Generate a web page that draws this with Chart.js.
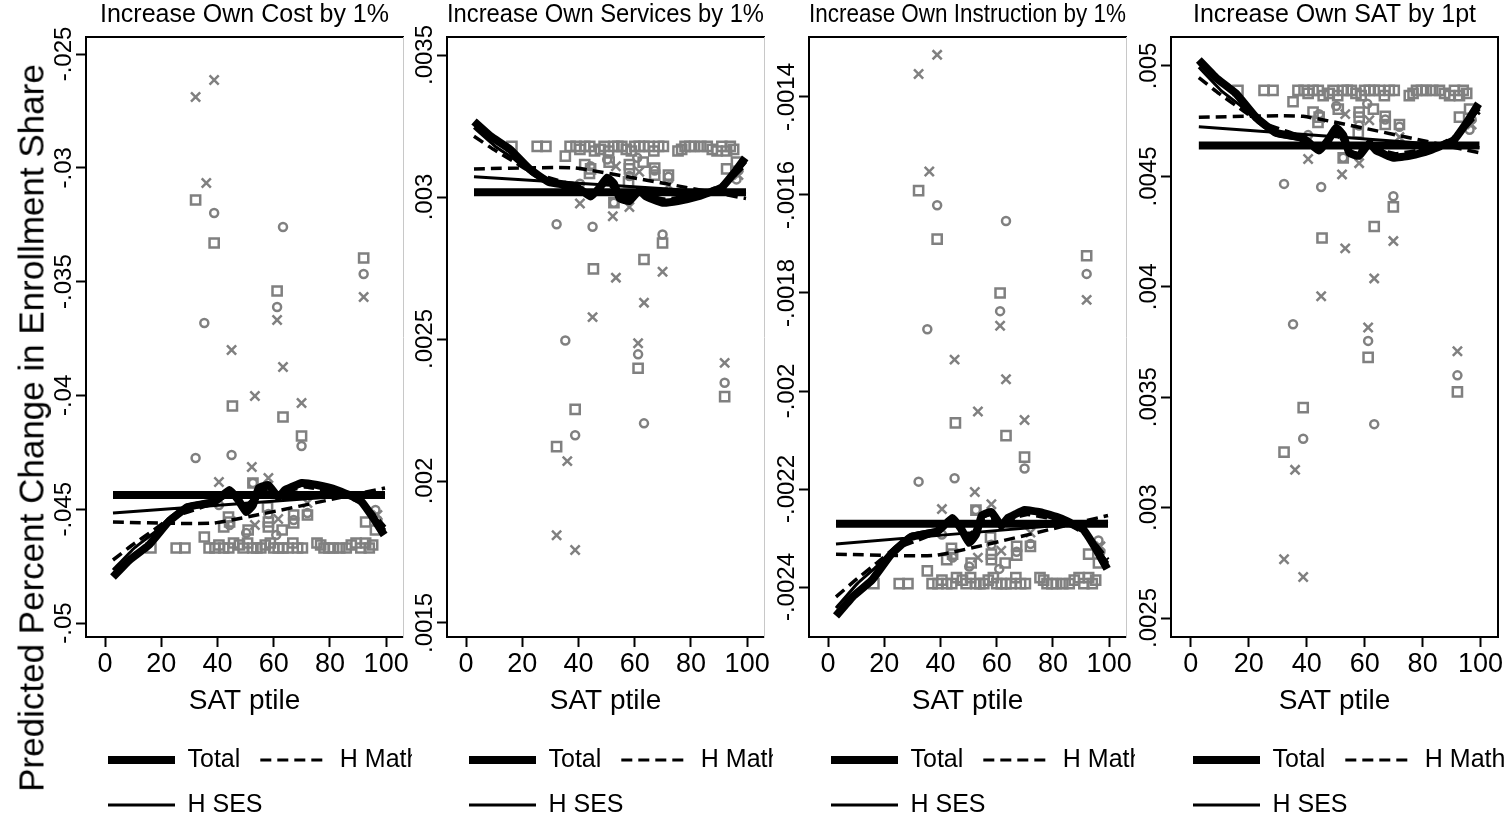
<!DOCTYPE html>
<html>
<head>
<meta charset="utf-8">
<script src="https://cdn.jsdelivr.net/npm/chart.js@4.4.1/dist/chart.umd.min.js"></script>
<style>
html,body{margin:0;padding:0;background:#fff;}
#wrap{position:relative;width:1510px;height:820px;overflow:hidden;background:#fff;}
#wrap canvas{position:absolute;top:0;}
#ytitle{position:absolute;left:31px;top:428px;transform:translate(-50%,-50%) rotate(-90deg);white-space:nowrap;font-family:'Liberation Sans',Arial,sans-serif;font-size:35px;color:#000;line-height:1;}
</style>
</head>
<body>
<div id="wrap">
<canvas id="c1" width="412" height="820" style="left:0px"></canvas>
<canvas id="c2" width="361" height="820" style="left:412px"></canvas>
<canvas id="c3" width="362" height="820" style="left:773px"></canvas>
<canvas id="c4" width="375" height="820" style="left:1135px"></canvas>
<div id="ytitle">Predicted Percent Change in Enrollment Share</div>
</div>
<script>
// ---------- labels ----------
const panelTitles = ['Increase Own Cost by 1%', 'Increase Own Services by 1%', 'Increase Own Instruction by 1%', 'Increase Own SAT by 1pt'];
const legendNames = ['Total', 'H Math', 'H SES'];
const xTitle = 'SAT ptile';
const xTickValues = [0, 20, 40, 60, 80, 100];
const xTickLabels = ['0', '20', '40', '60', '80', '100'];

const costTicks = [-0.05, -0.045, -0.04, -0.035, -0.03, -0.025];
const costTickLabels = ['-.05', '-.045', '-.04', '-.035', '-.03', '-.025'];
const servTicks = [0.0015, 0.002, 0.0025, 0.003, 0.0035];
const servTickLabels = ['.0015', '.002', '.0025', '.003', '.0035'];
const instTicks = [-0.0024, -0.0022, -0.002, -0.0018, -0.0016, -0.0014];
const instTickLabels = ['-.0024', '-.0022', '-.002', '-.0018', '-.0016', '-.0014'];
const satTicks = [0.0025, 0.003, 0.0035, 0.004, 0.0045, 0.005];
const satTickLabels = ['.0025', '.003', '.0035', '.004', '.0045', '.005'];

// ---------- line series (x shared by all panels; null = break between fitted line and smooth) ----------
const totalX = [2.8, 99.6, 99.6, 2.8, 8.7, 15.6, 22.5, 29.4, 38.8, 44.3, 47.4, 50.2, 52.6, 54.7, 58.1, 61.6, 64.0, 66.4, 69.9, 75.4, 82.4, 90.7, 95.2, 99.3];
const mathX = [2.8, 38.8, 99.6, 99.6, 2.8, 9.7, 17.3, 23.2, 29.4, 38.8, 44.3, 50.2, 54.7, 58.1, 61.6, 66.4, 70.9, 77.9, 84.8, 90.7, 95.2, 99.6];
const sesX = [2.8, 99.6, 99.6, 2.8, 10.4, 17.3, 23.2, 29.4, 38.8, 44.3, 50.2, 54.7, 58.1, 61.6, 66.4, 70.9, 77.9, 84.8, 90.7, 95.2, 99.6];

const costTotalY = [-.044376, -.044376, null, -.047979, -.047232, -.046573, -.045563, -.044904, -.044684, -.044157, -.044596, -.045123, -.044816, -.044069, -.043937, -.044464, -.044157, -.044025, -.043849, -.043937, -.044157, -.044596, -.045343, -.046134];
const servTotalY = [.003017, .003017, null, .003266, .003214, .003168, .003099, .003053, .003038, .003002, .003032, .003068, .003047, .002995, .002986, .003023, .003002, .002992, .002980, .002986, .003002, .003032, .003083, .003138];
const instTotalY = [-.002271, -.002271, null, -.002459, -.002420, -.002386, -.002333, -.002298, -.002287, -.002259, -.002282, -.002310, -.002293, -.002254, -.002247, -.002275, -.002259, -.002252, -.002243, -.002247, -.002259, -.002282, -.002321, -.002363];
const satTotalY = [.004640, .004640, null, .005027, .004947, .004876, .004768, .004697, .004673, .004617, .004664, .004721, .004687, .004607, .004593, .004650, .004617, .004603, .004584, .004593, .004617, .004664, .004744, .004829];

const costMathY = [-.045563, -.045607, -.044069, null, -.047232, -.046573, -.045914, -.045387, -.045123, -.044728, -.044376, -.044816, -.044288, -.044157, -.044464, -.044157, -.044025, -.044157, -.044376, -.044728, -.045167, -.045782];
const servMathY = [.003099, .003102, .002995, null, .003214, .003168, .003123, .003086, .003068, .003041, .003017, .003047, .003011, .003002, .003023, .003002, .002992, .003002, .003017, .003041, .003071, .003114];
const instMathY = [-.002333, -.002335, -.002254, null, -.002420, -.002386, -.002351, -.002323, -.002310, -.002289, -.002271, -.002293, -.002266, -.002259, -.002275, -.002259, -.002252, -.002259, -.002271, -.002289, -.002312, -.002344];
const satMathY = [.004768, .004772, .004607, null, .004947, .004876, .004805, .004749, .004721, .004678, .004640, .004687, .004631, .004617, .004650, .004617, .004603, .004617, .004640, .004678, .004725, .004791];

const costSesY = [-.045167, -.044288, null, -.047672, -.046705, -.046046, -.045343, -.044816, -.044596, -.044288, -.044904, -.044157, -.044025, -.044376, -.044069, -.043937, -.044069, -.044288, -.044684, -.045255, -.045914];
const servSesY = [.003071, .003011, null, .003244, .003178, .003132, .003083, .003047, .003032, .003011, .003053, .003002, .002992, .003017, .002995, .002986, .002995, .003011, .003038, .003077, .003123];
const instSesY = [-.002312, -.002266, null, -.002443, -.002393, -.002358, -.002321, -.002293, -.002282, -.002266, -.002298, -.002259, -.002252, -.002271, -.002254, -.002247, -.002254, -.002266, -.002287, -.002317, -.002351];
const satSesY = [.004725, .004631, null, .004994, .004890, .004819, .004744, .004687, .004664, .004631, .004697, .004617, .004603, .004640, .004607, .004593, .004607, .004631, .004673, .004735, .004805];

// ---------- scatter markers ----------
const crossX = [32.2, 38.8, 36.0, 92.0, 61.2, 45.0, 63.3, 53.3, 69.9, 52.2, 40.5, 58.1, 72.0, 61.6, 53.3, 96.9];
const costCrossY = [-.026889, -.026142, -.030668, -.035677, -.036687, -.038005, -.038752, -.040027, -.040334, -.043146, -.043805, -.043629, -.044728, -.045431, -.045694, -.045255];
const servCrossY = [.001809, .001757, .002070, .002416, .002485, .002577, .002628, .002716, .002737, .002932, .002977, .002965, .003041, .003089, .003108, .003077];
const instCrossY = [-.001353, -.001314, -.001552, -.001814, -.001867, -.001936, -.001976, -.002042, -.002059, -.002206, -.002241, -.002231, -.002289, -.002326, -.002340, -.002317];
const satCrossY = [.002766, .002686, .003171, .003708, .003816, .003957, .004038, .004174, .004207, .004509, .004579, .004560, .004678, .004754, .004782, .004735];

const circleX = [38.8, 63.3, 92.0, 61.2, 35.3, 69.9, 32.2, 45.0, 52.6, 72.0, 96.2, 96.9, 44.3, 67.1, 58.1, 40.5, 50.2, 60.9];
const costCircleY = [-.031986, -.032601, -.034666, -.036116, -.036819, -.042223, -.042751, -.042619, -.043849, -.045167, -.045035, -.045475, -.045694, -.045475, -.045211, -.044816, -.046046, -.046134];
const servCircleY = [.002161, .002203, .002346, .002446, .002495, .002868, .002904, .002895, .002980, .003071, .003062, .003093, .003108, .003093, .003074, .003047, .003132, .003138];
const instCircleY = [-.001621, -.001653, -.001761, -.001837, -.001874, -.002158, -.002185, -.002178, -.002243, -.002312, -.002305, -.002328, -.002340, -.002328, -.002314, -.002293, -.002358, -.002363];
const satCircleY = [.003312, .003378, .003599, .003755, .003830, .004410, .004466, .004452, .004584, .004725, .004711, .004758, .004782, .004758, .004730, .004687, .004819, .004829];

const squareX = [32.2, 38.8, 61.2, 92.0, 45.3, 63.3, 69.9, 52.6, 72.0, 92.7, 96.2, 43.9, 44.3, 42.2, 57.8, 58.1, 58.1, 67.1, 67.1, 50.9, 63.0,
  16.3, 25.3, 28.4, 35.3, 37.0, 39.1, 42.2, 45.7, 47.8, 49.1, 52.6, 55.4, 58.8, 61.6, 65.1, 68.5, 75.4, 77.9, 81.3, 85.8, 89.3, 92.7, 95.2,
  40.5, 44.0, 50.7, 54.0, 57.0, 60.0, 63.3, 66.8, 70.2, 76.7, 79.6, 83.5, 87.6, 91.0, 94.0];
const costSquareY = [-.031415, -.033304, -.035413, -.033963, -.040466, -.040949, -.041784, -.043849, -.045255, -.045563, -.045914, -.045343, -.045563, -.045782, -.044904, -.045563, -.045782, -.045255, -.045607, -.045914, -.045914,
  -.046705, -.046705, -.046705, -.046222, -.046705, -.046705, -.046705, -.046485, -.046573, -.046705, -.046705, -.046705, -.046485, -.046705, -.046705, -.046705, -.046485, -.046705, -.046705, -.046705, -.046485, -.046485, -.046573,
  -.046573, -.046705, -.046485, -.046705, -.046573, -.046705, -.046705, -.046485, -.046705, -.046573, -.046705, -.046705, -.046573, -.046705, -.046705];
const servSquareY = [.002121, .002252, .002397, .002297, .002747, .002780, .002838, .002980, .003077, .003099, .003123, .003083, .003099, .003114, .003053, .003099, .003114, .003077, .003102, .003123, .003123,
  .003178, .003178, .003178, .003144, .003178, .003178, .003178, .003162, .003168, .003178, .003178, .003178, .003162, .003178, .003178, .003178, .003162, .003178, .003178, .003178, .003162, .003162, .003168,
  .003168, .003178, .003162, .003178, .003168, .003178, .003178, .003162, .003178, .003168, .003178, .003178, .003168, .003178, .003178];
const instSquareY = [-.001591, -.001690, -.001800, -.001724, -.002065, -.002091, -.002135, -.002243, -.002317, -.002333, -.002351, -.002321, -.002333, -.002344, -.002298, -.002333, -.002344, -.002317, -.002335, -.002351, -.002351,
  -.002393, -.002393, -.002393, -.002367, -.002393, -.002393, -.002393, -.002381, -.002386, -.002393, -.002393, -.002393, -.002381, -.002393, -.002393, -.002393, -.002381, -.002393, -.002393, -.002393, -.002381, -.002381, -.002386,
  -.002386, -.002393, -.002381, -.002393, -.002386, -.002393, -.002393, -.002381, -.002393, -.002386, -.002393, -.002393, -.002386, -.002393, -.002393];
const satSquareY = [.003251, .003453, .003680, .003524, .004221, .004273, .004362, .004584, .004735, .004768, .004805, .004744, .004768, .004791, .004697, .004768, .004791, .004735, .004772, .004805, .004805,
  .004890, .004890, .004890, .004838, .004890, .004890, .004890, .004866, .004876, .004890, .004890, .004890, .004866, .004890, .004890, .004890, .004866, .004890, .004890, .004890, .004866, .004866, .004876,
  .004876, .004890, .004866, .004890, .004876, .004890, .004890, .004866, .004890, .004876, .004890, .004890, .004876, .004890, .004890];

// ---------- styling / layout ----------
const mctx = document.createElement('canvas').getContext('2d');
function hasFont(name) {
  const s = 'SAT ptile Total H Math 100';
  mctx.font = '72px monospace'; const a = mctx.measureText(s).width;
  mctx.font = '72px "' + name + '", monospace'; const b = mctx.measureText(s).width;
  return Math.abs(a - b) > 0.5;
}
const narrow = hasFont('Liberation Sans Narrow');
const SANS = "'Liberation Sans', Arial, Helvetica, sans-serif";
const BOTTOM = narrow ? "'Liberation Sans Narrow', 'Liberation Sans', Arial, sans-serif" : SANS;
const xTickSize = narrow ? 31 : 27;
const xTitleSize = narrow ? 33 : 28;
const legendSize = narrow ? 29 : 25;
const legendPad = 45 - legendSize;
const yTickSize = 24;
const GRAY = '#808080';

function widest(labels, font) { mctx.font = font; return Math.max(...labels.map(s => mctx.measureText(s).width)); }
function pts(xs, ys) { return xs.map((x, i) => ({x: x, y: ys[i]})); }

const panels = [
  {id: 'c1', axisW: 86, padR: 0, right: {color: '#c8c8c8', width: 1}, title: panelTitles[0], yMin: -0.050615, yMax: -0.024253, ticks: costTicks, labels: costTickLabels,
   total: costTotalY, math: costMathY, ses: costSesY, cross: costCrossY, circle: costCircleY, square: costSquareY},
  {id: 'c2', axisW: 35, padR: 0, right: {color: '#c8c8c8', width: 1}, title: panelTitles[1], yMin: 0.0014507, yMax: 0.0035634, ticks: servTicks, labels: servTickLabels,
   total: servTotalY, math: servMathY, ses: servSesY, cross: servCrossY, circle: servCircleY, square: servSquareY},
  {id: 'c3', axisW: 36, padR: 0, right: {color: '#c8c8c8', width: 1}, title: panelTitles[2], yMin: -0.0025020, yMax: -0.0012776, ticks: instTicks, labels: instTickLabels,
   total: instTotalY, math: instMathY, ses: instSesY, cross: instCrossY, circle: instCircleY, square: instSquareY},
  {id: 'c4', axisW: 36, padR: 12, right: {color: '#000', width: 2}, title: panelTitles[3], yMin: 0.0024140, yMax: 0.0051313, ticks: satTicks, labels: satTickLabels,
   total: satTotalY, math: satMathY, ses: satSesY, cross: satCrossY, circle: satCircleY, square: satSquareY}
];

const legendShift = {
  id: 'legendShift',
  afterLayout(chart) {
    const lg = chart.legend;
    if (!lg) return;
    const w = 360;
    lg.left = chart.chartArea.left + 22 - legendPad;
    lg.right = lg.left + w;
    lg.width = w;
    const h = lg.height;
    lg.top = 760 - legendPad - legendSize / 2;
    lg.bottom = lg.top + h;
  }
};

const legendStyle = [
  {lineWidth: 8, lineDash: []},
  {lineWidth: 3, lineDash: [11, 6]},
  {lineWidth: 3, lineDash: []}
];

panels.forEach(p => {
  const yPad = 12 - widest(p.labels, yTickSize + 'px ' + SANS) / 2;
  const tickGrid = {display: true, drawOnChartArea: false, drawTicks: true, tickLength: 10, tickWidth: 2, tickColor: '#000'};
  new Chart(document.getElementById(p.id), {
    type: 'scatter',
    data: {
      datasets: [
        {label: legendNames[0], data: pts(totalX, p.total), showLine: true, borderColor: '#000', backgroundColor: '#000', borderWidth: 8,
         pointRadius: 0, pointHoverRadius: 0, pointStyle: 'line', tension: 0.12, borderJoinStyle: 'round', xAxisID: 'x', yAxisID: 'y'},
        {label: legendNames[1], data: pts(mathX, p.math), showLine: true, borderColor: '#000', backgroundColor: '#000', borderWidth: 3.5, borderDash: [11, 6],
         pointRadius: 0, pointHoverRadius: 0, pointStyle: 'line', tension: 0.12, borderJoinStyle: 'round', xAxisID: 'x', yAxisID: 'y'},
        {label: legendNames[2], data: pts(sesX, p.ses), showLine: true, borderColor: '#000', backgroundColor: '#000', borderWidth: 3,
         pointRadius: 0, pointHoverRadius: 0, pointStyle: 'line', tension: 0.12, borderJoinStyle: 'round', xAxisID: 'x', yAxisID: 'y'},
        {label: 'x', data: pts(crossX, p.cross), showLine: false, pointStyle: 'crossRot', pointRadius: 6.5, pointBorderWidth: 2.5, borderWidth: 2.5,
         pointBorderColor: GRAY, borderColor: GRAY, pointBackgroundColor: 'rgba(0,0,0,0)', backgroundColor: 'rgba(0,0,0,0)', xAxisID: 'x', yAxisID: 'y'},
        {label: 'o', data: pts(circleX, p.circle), showLine: false, pointStyle: 'circle', pointRadius: 4, pointBorderWidth: 2.5, borderWidth: 2.5,
         pointBorderColor: GRAY, borderColor: GRAY, pointBackgroundColor: 'rgba(0,0,0,0)', backgroundColor: 'rgba(0,0,0,0)', xAxisID: 'x', yAxisID: 'y'},
        {label: 's', data: pts(squareX, p.square), showLine: false, pointStyle: 'rect', pointRadius: 6.5, pointBorderWidth: 2.5, borderWidth: 2.5,
         pointBorderColor: GRAY, borderColor: GRAY, pointBackgroundColor: 'rgba(0,0,0,0)', backgroundColor: 'rgba(0,0,0,0)', xAxisID: 'x', yAxisID: 'y'}
      ]
    },
    options: {
      responsive: false,
      animation: false,
      events: [],
      layout: {padding: {left: 0, right: p.padR, top: 0, bottom: 0}},
      scales: {
        x: {
          type: 'linear', position: 'bottom', min: -6.8, max: 106,
          afterBuildTicks: s => { s.ticks = xTickValues.map(v => ({value: v})); },
          afterFit: s => { s.height = 83; s.paddingLeft = 0; s.paddingRight = 0; },
          ticks: {autoSkip: false, minRotation: 0, maxRotation: 0, padding: 1, color: '#000',
                  font: {family: BOTTOM, size: xTickSize}, callback: (v, i) => xTickLabels[i]},
          grid: tickGrid,
          border: {display: true, color: '#000', width: 2},
          title: {display: true, text: xTitle, color: '#000', font: {family: BOTTOM, size: xTitleSize}, padding: {top: 0, bottom: 2}}
        },
        xTop: {
          type: 'linear', position: 'top', min: -6.8, max: 106,
          afterFit: s => { s.height = 3; s.paddingLeft = 0; s.paddingRight = 0; },
          ticks: {display: false}, grid: {display: false},
          border: {display: true, color: '#000', width: 2}
        },
        y: {
          type: 'linear', position: 'left', min: p.yMin, max: p.yMax,
          afterBuildTicks: s => { s.ticks = p.ticks.map(v => ({value: v})); },
          afterFit: s => { s.width = p.axisW; s.paddingTop = 0; s.paddingBottom = 0; },
          ticks: {autoSkip: false, minRotation: 90, maxRotation: 90, crossAlign: 'center', padding: yPad, color: '#000',
                  font: {family: SANS, size: yTickSize}, callback: (v, i) => p.labels[i]},
          grid: tickGrid,
          border: {display: true, color: '#000', width: 2}
        },
        yR: {
          type: 'linear', position: 'right', min: p.yMin, max: p.yMax,
          afterFit: s => { s.width = 0; s.paddingTop = 0; s.paddingBottom = 0; },
          ticks: {display: false}, grid: {display: false},
          border: {display: true, color: p.right.color, width: p.right.width}
        }
      },
      plugins: {
        tooltip: {enabled: false},
        title: {display: true, text: p.title, position: 'top', fullSize: false, align: 'center', color: '#000',
                font: {family: SANS, size: 25, weight: 'normal'}, padding: {top: 0, bottom: 4}},
        legend: {
          display: true, position: 'bottom', align: 'start', fullSize: true,
          labels: {
            usePointStyle: true, pointStyleWidth: 67, padding: legendPad, color: '#000',
            font: {family: BOTTOM, size: legendSize},
            generateLabels: () => legendNames.map((n, i) => ({
              text: n, datasetIndex: i, fillStyle: '#000', strokeStyle: '#000', fontColor: '#000',
              lineWidth: legendStyle[i].lineWidth, lineDash: legendStyle[i].lineDash, lineCap: 'butt',
              pointStyle: 'line', hidden: false
            }))
          }
        }
      }
    },
    plugins: [legendShift]
  });
});
</script>
</body>
</html>
